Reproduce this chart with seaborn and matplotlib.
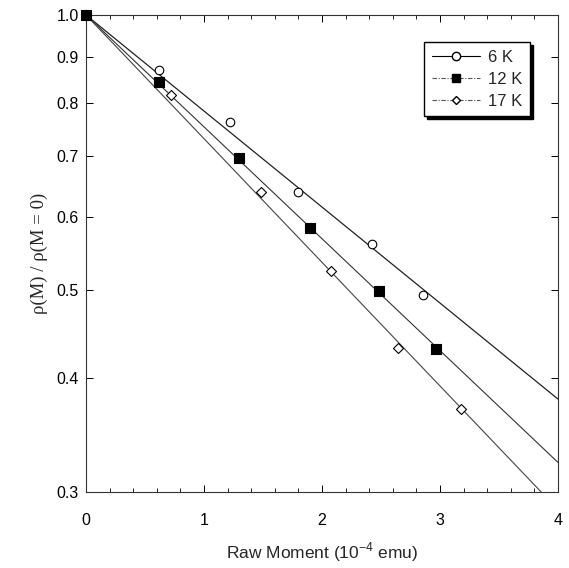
import numpy as np
import pandas as pd
import matplotlib
matplotlib.use("Agg")
import matplotlib.pyplot as plt
from matplotlib.lines import Line2D
from matplotlib.ticker import FixedLocator, NullLocator, FormatStrFormatter, MultipleLocator
import seaborn as sns

# data
labels = ["6 K", "12 K", "17 K"]
x_6K = [0.0, 0.62, 1.22, 1.80, 2.42, 2.86]
y_6K = [1.0, 0.870, 0.763, 0.640, 0.561, 0.493]
x_12K = [0.0, 0.62, 1.30, 1.90, 2.48, 2.97]
y_12K = [1.0, 0.844, 0.697, 0.584, 0.498, 0.430]
x_17K = [0.0, 0.72, 1.48, 2.08, 2.64, 3.18]
y_17K = [1.0, 0.817, 0.640, 0.524, 0.432, 0.370]
yticks = [0.3, 0.4, 0.5, 0.6, 0.7, 0.8, 0.9, 1.0]
xticks = [0, 1, 2, 3, 4]

sns.set_style("ticks")
plt.rcParams['font.family'] = ['Liberation Sans', 'DejaVu Sans']
plt.rcParams['mathtext.fontset'] = 'custom'
plt.rcParams['mathtext.rm'] = 'Liberation Sans'

fig = plt.figure(figsize=(5.69, 5.68), dpi=100)
ax = fig.add_axes([0.1511, 0.1338, 0.8296, 0.8398])

series = [(x_6K, y_6K), (x_12K, y_12K), (x_17K, y_17K)]
markers = ["o", "s", "D"]
msizes = [38, 46, 26]
faces = ["white", "black", "white"]
lws = [0.9, 0.8, 0.8]
lcolors = ["#222222", "#333333", "#444444"]
mz = [3, 4, 3]

xfit = np.array([0.0, 4.0])
for (xs, ys), lab, m, s, fc, lw, lc, z in zip(series, labels, markers, msizes, faces, lws, lcolors, mz):
    xs = np.array(xs); ys = np.array(ys)
    slope = np.sum(xs * np.log10(ys)) / np.sum(xs ** 2)
    df_fit = pd.DataFrame({"x": xfit, "y": 10 ** (slope * xfit)})
    sns.lineplot(data=df_fit, x="x", y="y", ax=ax, color=lc, lw=lw, zorder=2)
    df = pd.DataFrame({"x": xs, "y": ys})
    sns.scatterplot(data=df, x="x", y="y", ax=ax, marker=m, s=s, facecolor=fc,
                    edgecolor="black", linewidth=0.8, zorder=z, clip_on=False)

ax.set_yscale("log")
ax.set_xlim(0, 4)
ax.set_ylim(0.3, 1.0)
ax.yaxis.set_major_locator(FixedLocator(yticks))
ax.yaxis.set_minor_locator(NullLocator())
ax.yaxis.set_major_formatter(FormatStrFormatter("%.1f"))
ax.xaxis.set_major_locator(FixedLocator(xticks))
ax.xaxis.set_minor_locator(MultipleLocator(0.2))
ax.tick_params(which="both", direction="in", top=True, right=True, labelsize=11.5, colors="black")
ax.tick_params(which="major", length=5, width=0.7)
ax.tick_params(which="minor", length=3, width=0.6)
ax.tick_params(axis="x", which="major", pad=15)
ax.tick_params(axis="y", which="major", pad=5)
for sp in ax.spines.values():
    sp.set_visible(True)
    sp.set_linewidth(0.8)
    sp.set_color("#333333")

ax.set_xlabel("Raw Moment (10$^{-4}$ emu)", fontsize=12.5, labelpad=9)
ax.set_ylabel("ρ(M) / ρ(M = 0)", fontsize=13.5, labelpad=6, family=["Liberation Serif", "DejaVu Serif"])

handles = [
    Line2D([], [], color="black", lw=0.8, ls="-", marker="o", markerfacecolor="white",
           markeredgecolor="black", markersize=6),
    Line2D([], [], color="#555555", lw=0.8, ls=(0, (4, 1.5, 1, 1.5)), marker="s", markerfacecolor="black",
           markeredgecolor="black", markersize=6),
    Line2D([], [], color="#555555", lw=0.8, ls=(0, (4, 1.5, 1, 1.5)), marker="D", markerfacecolor="white",
           markeredgecolor="black", markersize=4.5),
]
leg = ax.legend(handles, labels, loc="upper right", bbox_to_anchor=(0.941, 0.943),
                frameon=True, fancybox=False, shadow={"color": "black", "alpha": 1.0},
                fontsize=12, handlelength=2.9, handletextpad=0.5, borderpad=0.45,
                labelspacing=0.42, borderaxespad=0)
leg.get_frame().set_edgecolor("black")
leg.get_frame().set_linewidth(1.0)

fig.savefig("out.png", dpi=100)
